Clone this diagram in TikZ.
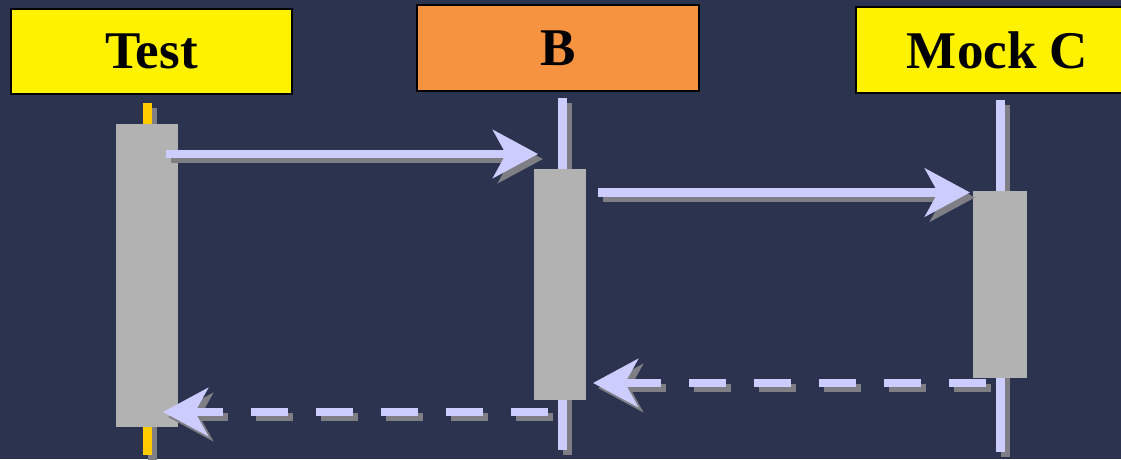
\documentclass[tikz,border=0pt]{standalone}
\usepackage{fontspec}
\setmainfont{Liberation Serif}
\usetikzlibrary{arrows.meta}
\definecolor{bgc}{HTML}{2C334F}
\definecolor{lav}{HTML}{CCCCFF}
\definecolor{actc}{HTML}{B2B2B2}
\definecolor{gold}{HTML}{FFCC00}
\definecolor{orng}{HTML}{F69340}
\definecolor{shd}{HTML}{7E7E84}
\begin{document}
\begin{tikzpicture}[x=1pt,y=-1pt,
  head/.style={draw=black,line width=2pt,inner sep=0pt,
    font=\bfseries\fontsize{53}{60}\selectfont},
  act/.style={fill=actc,draw=none,inner sep=0pt},
  life/.style={line width=9pt,line cap=butt},
  shadowed/.style={transform canvas={shift={(5pt,-5pt)}}},
  tip/.style={-{Stealth[length=45pt,width=48pt,inset=13pt]}},
  msg/.style={line width=8.5pt,line cap=butt,tip},
  ret/.style={msg,dash pattern=on 37pt off 28pt}]
\useasboundingbox (0,0) rectangle (1121,459);
\fill[bgc] (0,0) rectangle (1121,459);
\begin{scope}
\clip (0,0) rectangle (1121,459);
% headers
\node[head,fill=yellow,minimum width=281pt,minimum height=85pt] (test) at (151.5,51.5) {Test};
\node[head,fill=orng,minimum width=282pt,minimum height=86pt] (b) at (558,48) {B};
\node[head,fill=yellow,minimum width=283pt,minimum height=86pt] (c) at (997.5,50) {Mock C};
% lifeline ends
\coordinate (ta) at (147.5,103); \coordinate (tb) at (147.5,455);
\coordinate (ba) at (562.5,98);  \coordinate (bb) at (562.5,450);
\coordinate (ca) at (1000.5,100); \coordinate (cb) at (1000.5,452);
% lifelines with shadows
\draw[life,shd,shadowed] (ta) -- (tb);
\draw[life,shd,shadowed] (ba) -- (bb);
\draw[life,shd,shadowed] (ca) -- (cb);
\draw[life,gold] (ta) -- (tb);
\draw[life,lav] (ba) -- (bb);
\draw[life,lav] (ca) -- (cb);
% activations
\node[act,minimum width=62pt,minimum height=303pt] (acta) at (147,275.5) {};
\node[act,minimum width=52pt,minimum height=231pt] (actb) at (560,284.5) {};
\node[act,minimum width=54pt,minimum height=187pt] (actc) at (1000,284.5) {};
% message end points
\coordinate (m1s) at (166,154);   \coordinate (m1e) at (538,154);
\coordinate (m2s) at (598,192.5); \coordinate (m2e) at (970,192.5);
\coordinate (m3s) at (986,383);   \coordinate (m3e) at (593,383);
\coordinate (m4s) at (548,412);   \coordinate (m4e) at (163,412);
% shadows of messages
\draw[msg,shd,shadowed] (m1s) -- (m1e);
\draw[msg,shd,shadowed] (m2s) -- (m2e);
\draw[ret,shd,shadowed] (m3s) -- (m3e);
\draw[ret,shd,shadowed] (m4s) -- (m4e);
% messages
\draw[msg,lav] (m1s) -- (m1e);
\draw[msg,lav] (m2s) -- (m2e);
\draw[ret,lav] (m3s) -- (m3e);
\draw[ret,lav] (m4s) -- (m4e);
\end{scope}
\end{tikzpicture}
\end{document}
